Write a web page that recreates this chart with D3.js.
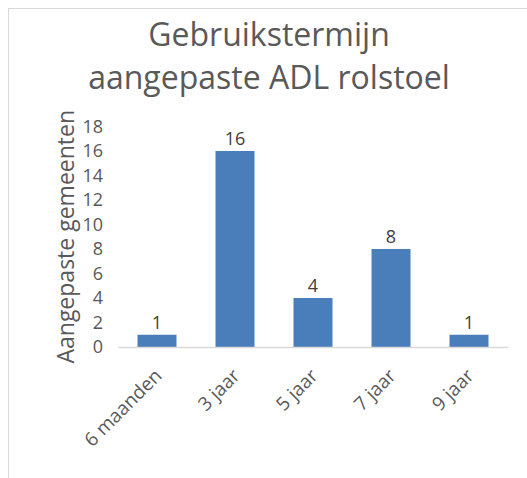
<!DOCTYPE html>
<html><head><meta charset="utf-8">
<script src="https://cdn.jsdelivr.net/npm/d3@7"></script>
<style>body{margin:0;background:#fff}svg{display:block}</style>
</head><body>
<script>
const categories = ["6 maanden", "3 jaar", "5 jaar", "7 jaar", "9 jaar"];
const values = [1, 16, 4, 8, 1];
const yTicks = [0, 2, 4, 6, 8, 10, 12, 14, 16, 18];
const titleLines = ["Gebruikstermijn", "aangepaste ADL rolstoel"];
const yTitle = "Aangepaste gemeenten";

const W = 527, H = 478;
const font = "'Open Sans', sans-serif";
const svg = d3.select("body").append("svg").attr("width", W).attr("height", H);

svg.append("rect").attr("x", 8.5).attr("y", 8.5).attr("width", W).attr("height", H)
  .attr("fill", "#fff").attr("stroke", "#d9d9d9").attr("stroke-width", 1);

const x = d3.scaleBand().domain(categories).range([118, 508]).paddingInner(0.5).paddingOuter(0.25);
const y = d3.scaleLinear().domain([0, 18]).range([347, 126.5]);

// title
svg.append("g").selectAll("text").data(titleLines).join("text")
  .attr("x", 269).attr("y", (d, i) => 46 + i * 43)
  .attr("text-anchor", "middle").attr("font-family", font).attr("font-size", 32)
  .attr("fill", "#595959").text(d => d);

// y axis ticks (labels only)
const yAxis = d3.axisLeft(y).tickValues(yTicks).tickSize(0).tickPadding(0);
const gy = svg.append("g").attr("transform", "translate(103,0)").call(yAxis);
gy.select(".domain").remove();
gy.selectAll("text").attr("font-family", font).attr("font-size", 18).attr("fill", "#595959");

// y title
svg.append("text").attr("transform", `translate(74,${(y(0) + y(18)) / 2}) rotate(-90)`)
  .attr("text-anchor", "middle").attr("font-family", font).attr("font-size", 23)
  .attr("fill", "#595959").text(yTitle);

// bars
svg.append("g").selectAll("rect").data(values).join("rect")
  .attr("x", (d, i) => x(categories[i])).attr("width", x.bandwidth())
  .attr("y", d => y(d)).attr("height", d => y(0) - y(d)).attr("fill", "#4a7ebb");

// x axis
const xAxis = d3.axisBottom(x).tickSize(0).tickPadding(0);
const gx = svg.append("g").attr("transform", `translate(0,${y(0)})`).call(xAxis);
gx.select(".domain").attr("stroke", "#d9d9d9").attr("stroke-width", 1.5);
gx.selectAll("text").attr("font-family", font).attr("font-size", 19).attr("fill", "#595959")
  .attr("text-anchor", "end").attr("dy", 0)
  .attr("transform", "translate(6,30) rotate(-45)");

// data labels
svg.append("g").selectAll("text").data(values).join("text")
  .attr("x", (d, i) => x(categories[i]) + x.bandwidth() / 2).attr("y", d => y(d) - 6)
  .attr("text-anchor", "middle").attr("font-family", font).attr("font-size", 18)
  .attr("fill", "#404040").text(d => d);
</script>
</body></html>
